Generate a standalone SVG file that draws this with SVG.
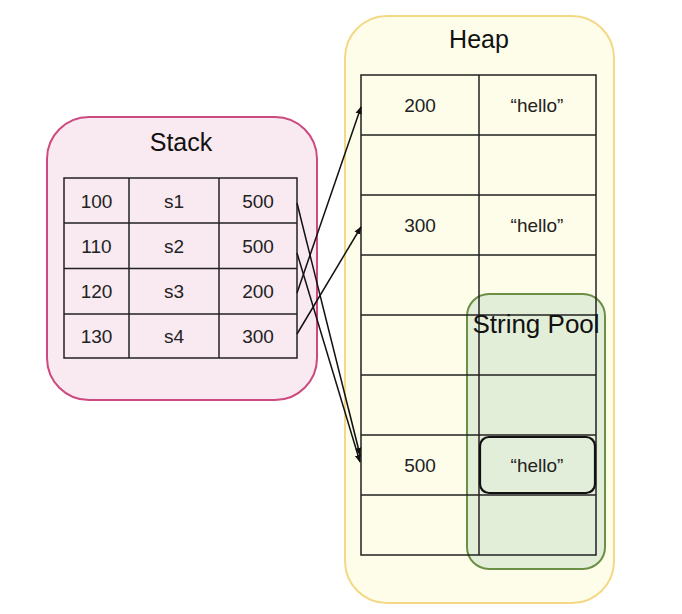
<svg xmlns="http://www.w3.org/2000/svg" width="682" height="614" viewBox="0 0 682 614">
<defs>
<style>
.t{font-family:"Liberation Sans",Arial,sans-serif;font-size:19px;fill:#222;text-anchor:middle;dominant-baseline:central}
.title{font-family:"Liberation Sans",Arial,sans-serif;font-size:25px;fill:#111;text-anchor:middle}
.grid{fill:none;stroke:#222;stroke-width:1.5}
.conn{stroke:#111;stroke-width:1.5;fill:none;marker-end:url(#ah)}
</style>
<marker id="ah" viewBox="0 0 10 10" refX="9" refY="5" markerWidth="8" markerHeight="8" markerUnits="userSpaceOnUse" orient="auto">
<path d="M0,1 L10,5 L0,9 z" fill="#111"/>
</marker>
</defs>
<rect width="682" height="614" fill="#fff"/>
<g id="heap">
<rect x="345" y="16" width="269" height="587" rx="42" fill="#fdfde9" stroke="#f3d985" stroke-width="2"/>
<text class="title" x="479" y="48">Heap</text>
</g>
<g id="stringpool">
<rect x="467" y="294" width="138" height="275" rx="22" fill="#e3eed8" stroke="#6b8f45" stroke-width="2"/>
</g>
<g id="heap-table">
<g class="grid">
<rect x="361" y="75" width="235" height="480"/>
<line x1="479" y1="75" x2="479" y2="555"/>
<line x1="361" y1="135" x2="596" y2="135"/>
<line x1="361" y1="195" x2="596" y2="195"/>
<line x1="361" y1="255" x2="596" y2="255"/>
<line x1="361" y1="315" x2="596" y2="315"/>
<line x1="361" y1="375" x2="596" y2="375"/>
<line x1="361" y1="435" x2="596" y2="435"/>
<line x1="361" y1="495" x2="596" y2="495"/>
</g>
<text class="t" x="420" y="105">200</text>
<text class="t" x="537" y="105">“hello”</text>
<text class="t" x="420" y="225">300</text>
<text class="t" x="537" y="225">“hello”</text>
<text class="t" x="420" y="465">500</text>
</g>
<g id="stringpool-label">
<text x="536" y="333" font-family="Liberation Sans, Arial, sans-serif" font-size="26" fill="#111" text-anchor="middle">String Pool</text>
</g>
<g id="pool-hello">
<rect x="480" y="437" width="115" height="56" rx="9" fill="#e3eeda" stroke="#111" stroke-width="2.2"/>
<text class="t" x="537" y="465">“hello”</text>
</g>
<g id="stack">
<rect x="47" y="117" width="270" height="283" rx="42" fill="#f9e9f0" stroke="#cc4a80" stroke-width="2"/>
<text class="title" x="181" y="151">Stack</text>
<g class="grid">
<rect x="64" y="178" width="233" height="180"/>
<line x1="129" y1="178" x2="129" y2="358"/>
<line x1="219" y1="178" x2="219" y2="358"/>
<line x1="64" y1="223" x2="297" y2="223"/>
<line x1="64" y1="268.5" x2="297" y2="268.5"/>
<line x1="64" y1="314" x2="297" y2="314"/>
</g>
<text class="t" x="96.5" y="201">100</text>
<text class="t" x="174" y="201">s1</text>
<text class="t" x="258" y="201">500</text>
<text class="t" x="96.5" y="246">110</text>
<text class="t" x="174" y="246">s2</text>
<text class="t" x="258" y="246">500</text>
<text class="t" x="96.5" y="291">120</text>
<text class="t" x="174" y="291">s3</text>
<text class="t" x="258" y="291">200</text>
<text class="t" x="96.5" y="336">130</text>
<text class="t" x="174" y="336">s4</text>
<text class="t" x="258" y="336">300</text>
</g>
<g id="connectors">
<line class="conn" x1="297" y1="293" x2="361" y2="107"/>
<line class="conn" x1="297" y1="334" x2="361" y2="227"/>
<line class="conn" x1="297" y1="203" x2="360" y2="455"/>
<line class="conn" x1="297" y1="253" x2="360" y2="462"/>
</g>
</svg>
